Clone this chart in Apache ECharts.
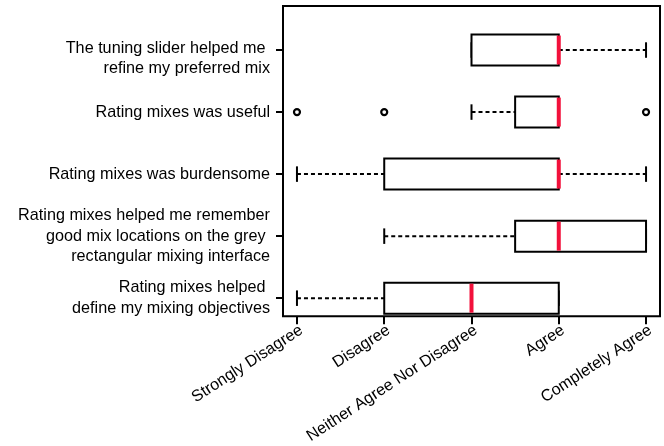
<!DOCTYPE html>
<html>
<head>
<meta charset="utf-8">
<script src="https://cdn.jsdelivr.net/npm/echarts@6/dist/echarts.min.js"></script>
<style>
html,body{margin:0;padding:0;background:#fff;}
#chart{width:664px;height:446px;}
</style>
</head>
<body>
<div id="chart"></div>
<script>
// Questions, bottom (position 1) to top (position 5)
const categories = [
  "Rating mixes helped \ndefine my mixing objectives",
  "Rating mixes helped me remember\ngood mix locations on the grey \nrectangular mixing interface",
  "Rating mixes was burdensome",
  "Rating mixes was useful",
  "The tuning slider helped me \nrefine my preferred mix"
];
// Likert scale tick labels (values 1..5)
const scaleLabels = ["Strongly Disagree", "Disagree", "Neither Agree Nor Disagree", "Agree", "Completely Agree"];
const scaleValues = [1, 2, 3, 4, 5];
// Box statistics per question
const lowWhisker  = [1, 2,   1, 3,   3];
const lowerQuart  = [2, 3.5, 2, 3.5, 3];
const medianVal   = [3, 4,   4, 4,   4];
const upperQuart  = [4, 5,   4, 4,   4];
const highWhisker = [4, 5,   5, 4,   5];
// Outliers: [question index, value]
const outlierQuestion = [3, 3, 3];
const outlierValue    = [1, 2, 5];

const BOX_HALF = 0.25, CAP_HALF = 0.125;
const RED = '#f2113b';

const boxData = categories.map((c, i) => [lowWhisker[i], lowerQuart[i], medianVal[i], upperQuart[i], highWhisker[i], i + 1]);
const outlierData = outlierQuestion.map((q, i) => [outlierValue[i], q + 1]);

const chart = echarts.init(document.getElementById('chart'), null, {renderer: 'canvas'});
const font = 'Liberation Sans';

chart.setOption({
  animation: false,
  backgroundColor: '#fff',
  grid: {left: 283, right: 4, top: 6, bottom: 128, show: true, borderColor: '#000', borderWidth: 2, backgroundColor: 'transparent'},
  xAxis: {
    type: 'value', min: 0.84, max: 5.16,
    axisLine: {show: false},
    splitLine: {show: false},
    axisTick: {show: true, length: 8, lineStyle: {color: '#000', width: 2}, customValues: scaleValues},
    axisLabel: {
      customValues: scaleValues,
      rotate: 33, verticalAlign: 'top', margin: 6,
      color: '#000', fontSize: 16.2, fontFamily: font,
      formatter: v => scaleLabels[Math.round(v) - 1]
    }
  },
  yAxis: {
    type: 'value', min: 0.71, max: 5.71,
    axisLine: {show: false},
    splitLine: {show: false},
    axisTick: {show: true, length: 7, lineStyle: {color: '#000', width: 2}, customValues: scaleValues},
    axisLabel: {
      customValues: scaleValues,
      margin: 13, align: 'right',
      color: '#000', fontSize: 16.2, fontFamily: font, lineHeight: 20.5,
      formatter: v => {
        const idx = Math.round(v) - 1;
        const t = categories[idx];
        if (idx === 4) return '{sp| }\n' + t;
        return t;
      },
      rich: {sp: {fontSize: 4, lineHeight: 17}}
    }
  },
  series: [
    {
      type: 'custom',
      data: boxData,
      encode: {x: [0, 1, 2, 3, 4], y: 5},
      renderItem: function (params, api) {
        const pos = api.value(5);
        const pLo = api.coord([api.value(0), pos]);
        const pQ1 = api.coord([api.value(1), pos]);
        const pMed = api.coord([api.value(2), pos]);
        const pQ3 = api.coord([api.value(3), pos]);
        const pHi = api.coord([api.value(4), pos]);
        const bh = api.size([0, BOX_HALF * 2])[1];
        const ch = api.size([0, CAP_HALF * 2])[1];
        const y = pMed[1];
        const dashStyle = {stroke: '#000', lineWidth: 2, lineDash: [4, 3], fill: null};
        const solid = {stroke: '#000', lineWidth: 2, fill: null};
        return {
          type: 'group',
          children: [
            {type: 'line', shape: {x1: pLo[0], y1: y, x2: pQ1[0], y2: y}, style: dashStyle},
            {type: 'line', shape: {x1: pQ3[0], y1: y, x2: pHi[0], y2: y}, style: dashStyle},
            {type: 'line', shape: {x1: pLo[0], y1: y - ch / 2, x2: pLo[0], y2: y + ch / 2}, style: solid},
            {type: 'line', shape: {x1: pHi[0], y1: y - ch / 2, x2: pHi[0], y2: y + ch / 2}, style: solid},
            {type: 'rect', shape: {x: pQ1[0], y: y - bh / 2, width: pQ3[0] - pQ1[0], height: bh}, style: {stroke: '#000', lineWidth: 2, fill: '#fff'}},
            {type: 'line', shape: {x1: pMed[0], y1: y - bh / 2 + 1, x2: pMed[0], y2: y + bh / 2 - 1}, style: {stroke: RED, lineWidth: 4, fill: null}}
          ]
        };
      }
    },
    {
      type: 'scatter',
      data: outlierData,
      symbol: 'circle',
      symbolSize: 6,
      itemStyle: {color: '#fff', borderColor: '#000', borderWidth: 2.2, opacity: 1}
    }
  ]
});
</script>
</body>
</html>
